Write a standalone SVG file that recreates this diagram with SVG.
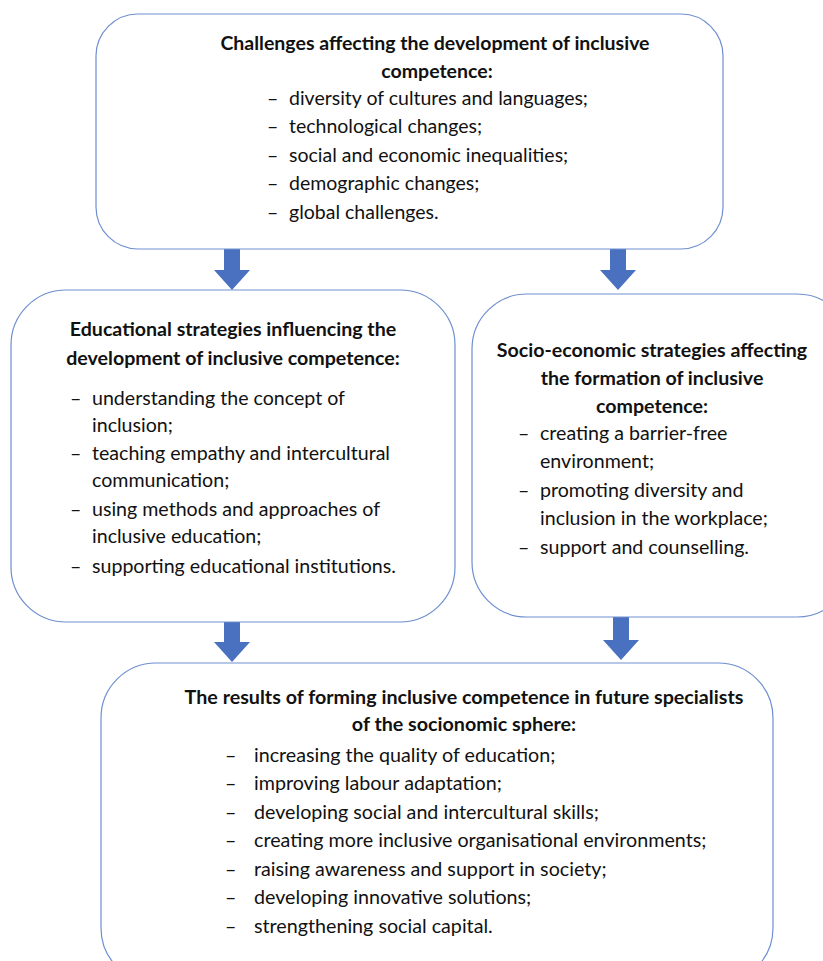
<svg xmlns="http://www.w3.org/2000/svg" width="823" height="961" viewBox="0 0 823 961">
  <style>
    .box { fill: #ffffff; stroke: #6f8fd0; stroke-width: 1.2; }
    .arrow { fill: #4a70c0; }
    text { font-family: Lato, "Liberation Sans", sans-serif; fill: #111; }
    .h { font-weight: bold; text-anchor: middle; }
    .t1 { font-size: 19.5px; }
    .t2 { font-size: 19.6px; }
    .t4 { font-size: 19.7px; }
  </style>
  <rect width="823" height="961" fill="#ffffff"/>

  <g id="connectors">
    <polygon class="arrow" points="224,249 240,249 240,270 250,270 232,290 214,270 224,270"/>
    <polygon class="arrow" points="610,249 626,249 626,270 636,270 618,290 600,270 610,270"/>
    <polygon class="arrow" points="224,622 240,622 240,642 250,642 232,662 214,642 224,642"/>
    <polygon class="arrow" points="613,617 629,617 629,640 639,640 621,660 603,640 613,640"/>
  </g>

  <g id="challenges">
    <rect class="box" x="96" y="14" width="627" height="235" rx="42"/>
    <text class="h t1" x="435" y="50">Challenges affecting the development of inclusive</text>
    <text class="h t1" x="437" y="78">competence:</text>
    <g class="t1">
      <text x="267" y="105">–</text><text x="289" y="105">diversity of cultures and languages;</text>
      <text x="267" y="133">–</text><text x="289" y="133">technological changes;</text>
      <text x="267" y="162">–</text><text x="289" y="162">social and economic inequalities;</text>
      <text x="267" y="190">–</text><text x="289" y="190">demographic changes;</text>
      <text x="267" y="219">–</text><text x="289" y="219">global challenges.</text>
    </g>
  </g>

  <g id="educational">
    <rect class="box" x="11" y="290" width="444" height="332" rx="55"/>
    <text class="h t2" x="233" y="336">Educational strategies influencing the</text>
    <text class="h t2" x="233" y="365">development of inclusive competence:</text>
    <g class="t2">
      <text x="70" y="405">–</text><text x="92" y="405">understanding the concept of</text>
      <text x="92" y="432">inclusion;</text>
      <text x="70" y="460">–</text><text x="92" y="460">teaching empathy and intercultural</text>
      <text x="92" y="487">communication;</text>
      <text x="70" y="516">–</text><text x="92" y="516">using methods and approaches of</text>
      <text x="92" y="543">inclusive education;</text>
      <text x="70" y="573">–</text><text x="92" y="573">supporting educational institutions.</text>
    </g>
  </g>

  <g id="socioeconomic">
    <rect class="box" x="472" y="294" width="380" height="323" rx="55"/>
    <text class="h t2" x="652" y="357">Socio-economic strategies affecting</text>
    <text class="h t2" x="652" y="385">the formation of inclusive</text>
    <text class="h t2" x="652" y="413">competence:</text>
    <g class="t2">
      <text x="518" y="440">–</text><text x="540" y="440">creating a barrier-free</text>
      <text x="540" y="468">environment;</text>
      <text x="518" y="497">–</text><text x="540" y="497">promoting diversity and</text>
      <text x="540" y="525">inclusion in the workplace;</text>
      <text x="518" y="554">–</text><text x="540" y="554">support and counselling.</text>
    </g>
  </g>

  <g id="results">
    <rect class="box" x="101" y="663" width="672" height="320" rx="55"/>
    <text class="h t4" x="464" y="704">The results of forming inclusive competence in future specialists</text>
    <text class="h t4" x="464" y="731">of the socionomic sphere:</text>
    <g class="t4">
      <text x="225" y="762">–</text><text x="254" y="762">increasing the quality of education;</text>
      <text x="225" y="790">–</text><text x="254" y="790">improving labour adaptation;</text>
      <text x="225" y="819">–</text><text x="254" y="819">developing social and intercultural skills;</text>
      <text x="225" y="847">–</text><text x="254" y="847">creating more inclusive organisational environments;</text>
      <text x="225" y="876">–</text><text x="254" y="876">raising awareness and support in society;</text>
      <text x="225" y="904">–</text><text x="254" y="904">developing innovative solutions;</text>
      <text x="225" y="933">–</text><text x="254" y="933">strengthening social capital.</text>
    </g>
  </g>
</svg>
